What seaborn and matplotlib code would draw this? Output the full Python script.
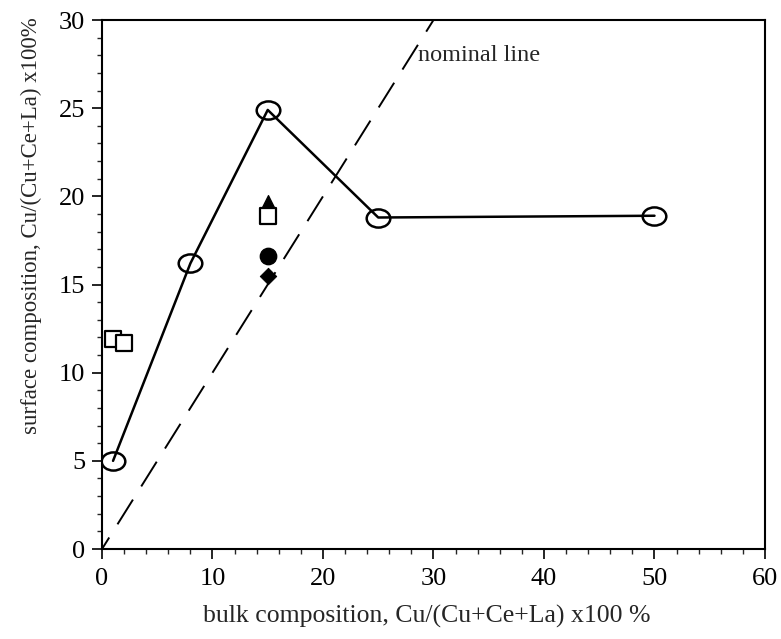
import matplotlib
matplotlib.use("Agg")
import matplotlib.pyplot as plt
from matplotlib.path import Path
from matplotlib.transforms import Affine2D
from matplotlib.ticker import MultipleLocator
import seaborn as sns
import pandas as pd

# open circles joined by a line
bulk_line = [1, 8, 15, 25, 50]
surf_line = [5.0, 16.2, 24.9, 18.8, 18.9]

# open squares
bulk_sq = [1, 2, 15]
surf_sq = [11.9, 11.7, 18.9]

# single filled points at 15 %
bulk_tri, surf_tri = [15], [19.6]
bulk_dot, surf_dot = [15], [16.6]
bulk_dia, surf_dia = [15], [15.5]

# nominal line y = x
nominal_x = [0, 30]
nominal_y = [0, 30]

sns.set_style("ticks")
plt.rcParams["font.family"] = ["Liberation Serif", "DejaVu Serif"]
plt.rcParams["xtick.major.size"] = 7
plt.rcParams["ytick.major.size"] = 7
plt.rcParams["xtick.minor.size"] = 3.5
plt.rcParams["ytick.minor.size"] = 3.5

ellipse = Path.unit_circle().transformed(Affine2D().scale(1.3, 1.0))

fig = plt.figure(figsize=(7.81, 6.39), dpi=100)
ax = fig.add_axes([0.1306, 0.1408, 0.8489, 0.8279])

df_line = pd.DataFrame({"x": bulk_line, "y": surf_line})
sns.lineplot(data=df_line, x="x", y="y", ax=ax, color="black", lw=1.8,
             marker=ellipse, markersize=17, markerfacecolor="none",
             markeredgecolor="black", markeredgewidth=1.8)

sns.lineplot(x=nominal_x, y=nominal_y, ax=ax, color="black", lw=1.4,
             dashes=False, linestyle=(8, (15, 8)))

sns.scatterplot(x=bulk_sq, y=surf_sq, ax=ax, marker="s", s=140,
                facecolor="white", edgecolor="black", linewidth=1.6, zorder=4)
sns.scatterplot(x=bulk_tri, y=surf_tri, ax=ax, marker="^", s=130,
                color="black", edgecolor="black", zorder=3)
sns.scatterplot(x=bulk_dot, y=surf_dot, ax=ax, marker="o", s=140,
                color="black", edgecolor="black", zorder=3)
sns.scatterplot(x=bulk_dia, y=surf_dia, ax=ax, marker="D", s=70,
                color="black", edgecolor="black", zorder=3)

ax.text(28.6, 28.0, "nominal line", fontsize=17.5, ha="left", va="center")

ax.set_xlim(0, 60)
ax.set_ylim(0, 30)
ax.xaxis.set_major_locator(MultipleLocator(10))
ax.xaxis.set_minor_locator(MultipleLocator(2))
ax.yaxis.set_major_locator(MultipleLocator(5))
ax.yaxis.set_minor_locator(MultipleLocator(1))
ax.tick_params(labelsize=19, width=1.2, colors="black")
ax.tick_params(axis="y", pad=5)
ax.tick_params(axis="x", pad=7)
ax.tick_params(which="minor", width=1.0)
for sp in ax.spines.values():
    sp.set_linewidth(1.5)
    sp.set_color("black")

ax.set_xlabel("bulk composition, Cu/(Cu+Ce+La) x100 %", fontsize=18.5)
ax.set_ylabel("surface composition, Cu/(Cu+Ce+La) x100%", fontsize=16.5)
ax.xaxis.set_label_coords(0.49, -0.106)
ax.yaxis.set_label_coords(-0.09, 0.612)

fig.savefig("out.png", dpi=100)
